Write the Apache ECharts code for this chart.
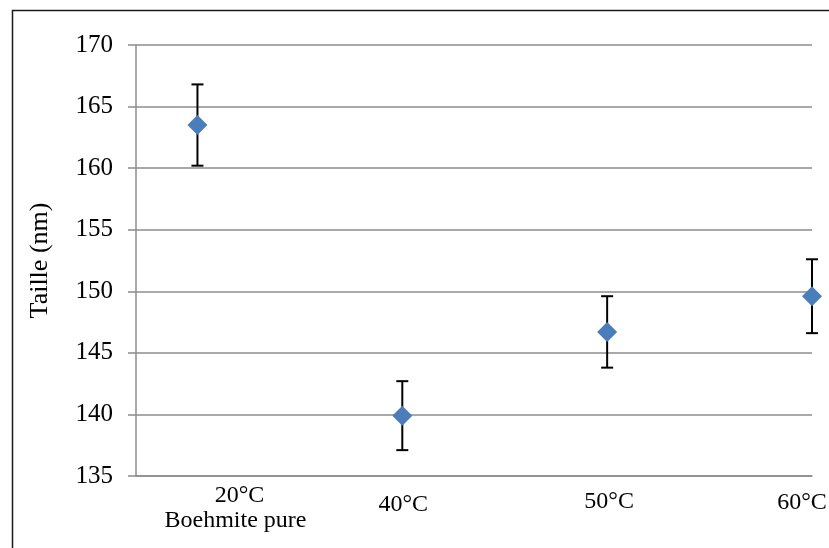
<!DOCTYPE html>
<html>
<head>
<meta charset="utf-8">
<script src="https://cdn.jsdelivr.net/npm/echarts@6/dist/echarts.min.js"></script>
<style>
  html, body { margin: 0; padding: 0; background: #fff; }
  #chart { width: 829px; height: 548px; }
</style>
</head>
<body>
<div id="chart"></div>
<script>
// Particle size by synthesis temperature (mean ± error)
var categories = ['20°C', '40°C', '50°C', '60°C'];
var subLabels = ['Boehmite pure', '', '', ''];
var xPositions = [1, 2, 3, 4];
var sizes = [163.5, 139.9, 146.7, 149.6];
var errors = [3.3, 2.8, 2.9, 3.0];
var yTicks = [135, 140, 145, 150, 155, 160, 165, 170];

var FONT = "'Liberation Serif', 'Times New Roman', serif";

var points = xPositions.map(function (x, i) { return [x, sizes[i]]; });
var bars = xPositions.map(function (x, i) { return [x, sizes[i] - errors[i], sizes[i] + errors[i]]; });

var chart = echarts.init(document.getElementById('chart'), null, { renderer: 'canvas' });

var option = {
  backgroundColor: '#ffffff',
  animation: false,
  grid: { left: 136, top: 45, right: 17, bottom: 72, containLabel: false },
  xAxis: {
    type: 'value',
    min: 0.7,
    max: 4,
    axisLine: { show: true, lineStyle: { color: '#8c8c8c', width: 1.5 } },
    axisTick: { show: false },
    axisLabel: { show: false },
    splitLine: { show: false }
  },
  yAxis: {
    type: 'value',
    min: yTicks[0],
    max: yTicks[yTicks.length - 1],
    interval: 5,
    name: 'Taille (nm)',
    nameLocation: 'middle',
    nameGap: 83,
    nameRotate: 90,
    nameTextStyle: { fontFamily: FONT, fontSize: 26, color: '#000' },
    axisLine: { show: true, lineStyle: { color: '#8c8c8c', width: 1.5 } },
    axisTick: { show: true, inside: false, length: 8, lineStyle: { color: '#8c8c8c', width: 1.5 } },
    axisLabel: { fontFamily: FONT, fontSize: 25, color: '#000', margin: 23 },
    splitLine: { show: true, lineStyle: { color: '#8c8c8c', width: 1.5 } }
  },
  series: [
    {
      type: 'custom',
      name: 'error',
      z: 2,
      data: bars,
      renderItem: function (params, api) {
        var x = api.value(0);
        var lo = api.coord([x, api.value(1)]);
        var hi = api.coord([x, api.value(2)]);
        var cap = 6;
        var style = { stroke: '#000', lineWidth: 2 };
        return {
          type: 'group',
          children: [
            { type: 'line', shape: { x1: lo[0], y1: lo[1], x2: hi[0], y2: hi[1] }, style: style },
            { type: 'line', shape: { x1: hi[0] - cap, y1: hi[1], x2: hi[0] + cap, y2: hi[1] }, style: style },
            { type: 'line', shape: { x1: lo[0] - cap, y1: lo[1], x2: lo[0] + cap, y2: lo[1] }, style: style }
          ]
        };
      }
    },
    {
      type: 'scatter',
      name: 'Taille',
      z: 5,
      symbol: 'diamond',
      symbolSize: 20,
      itemStyle: { color: '#4a7ebb', opacity: 1 },
      data: points
    }
  ],
  graphic: []
};

chart.setOption(option);

// Category labels under the axis, anchored to each point's x position
var labelShiftX = [42, 1, 2, -10];
var subShiftX = [38, 0, 0, 0];
var labelY = [496, 505, 502, 503];
var graphics = [{
  type: 'rect',
  left: 10, top: 8,
  shape: { width: 840, height: 560 },
  style: { fill: 'none', stroke: '#1a1a1a', lineWidth: 1.5 },
  silent: true
}];
categories.forEach(function (c, i) {
  var px = chart.convertToPixel({ gridIndex: 0 }, [xPositions[i], yTicks[0]])[0];
  graphics.push({
    type: 'text',
    x: px + labelShiftX[i], y: labelY[i],
    style: { text: c, fontFamily: FONT, fontSize: 24, fill: '#000', align: 'center', verticalAlign: 'middle' }
  });
  if (subLabels[i]) {
    graphics.push({
      type: 'text',
      x: px + subShiftX[i], y: labelY[i] + 25,
      style: { text: subLabels[i], fontFamily: FONT, fontSize: 24, fill: '#000', align: 'center', verticalAlign: 'middle' }
    });
  }
});
chart.setOption({ graphic: graphics });
</script>
</body>
</html>
